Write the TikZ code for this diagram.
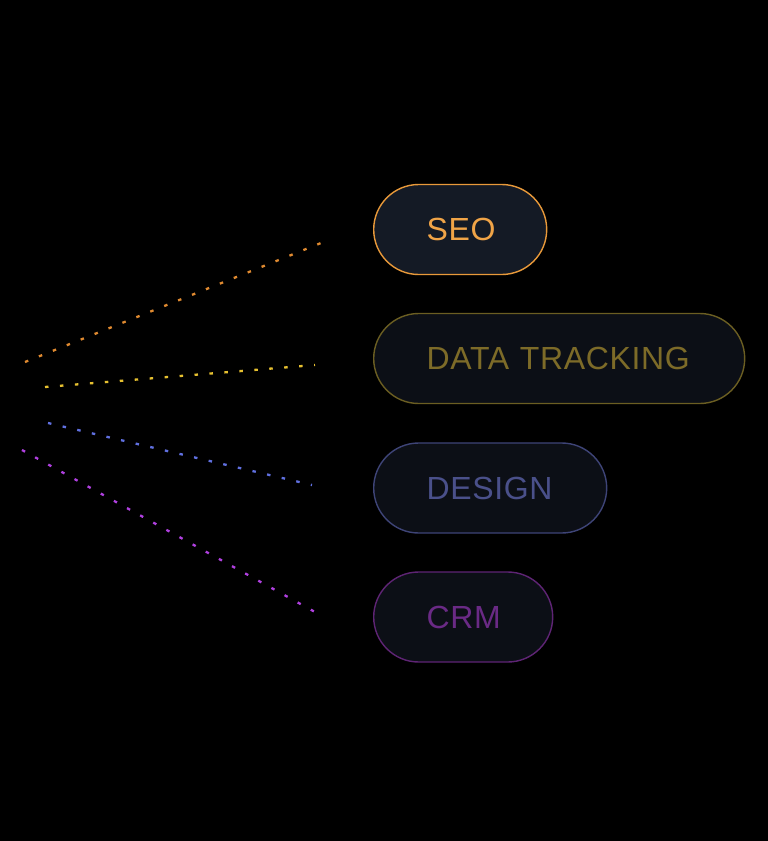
\documentclass[tikz,border=0pt]{standalone}
\usepackage{fontspec}
\setmainfont{Liberation Sans}
\definecolor{bg}{HTML}{000000}
\definecolor{seoB}{HTML}{E8993A}
\definecolor{seoT}{HTML}{F0A447}
\definecolor{seoF}{HTML}{141A25}
\definecolor{pillF}{HTML}{0C0F16}
\definecolor{dtB}{HTML}{6B5E22}
\definecolor{dtT}{HTML}{7D6B28}
\definecolor{deB}{HTML}{3E4477}
\definecolor{deT}{HTML}{4A508A}
\definecolor{crB}{HTML}{5E2474}
\definecolor{crT}{HTML}{6A2A85}
\definecolor{lnO}{HTML}{E08A30}
\definecolor{lnY}{HTML}{E6C030}
\definecolor{lnB}{HTML}{6070E0}
\definecolor{lnP}{HTML}{B040E0}
\tikzset{
  pill/.style={draw, line width=1.4pt, rounded corners=45pt, minimum height=90pt,
    anchor=west, inner xsep=53pt, inner ysep=0pt, align=left,
    font=\fontsize{32}{36}\selectfont\addfontfeature{LetterSpace=2}},
  dotline/.style={line width=2.3pt, dash pattern=on 3.5pt off 11.5pt}
}
\begin{document}
\begin{tikzpicture}[x=1pt,y=-1pt]
\fill[bg] (0,0) rectangle (768,841);
\useasboundingbox (0,0) rectangle (768,841);
\node[pill, draw=seoB, fill=seoF, text=seoT, text width=67pt] (seo) at (373,229.5) {SEO};
\node[pill, draw=dtB, fill=pillF, text=dtT, text width=265pt] (dt) at (373,358.5) {DATA TRACKING};
\node[pill, draw=deB, fill=pillF, text=deT, text width=127pt] (de) at (373,488) {DESIGN};
\node[pill, draw=crB, fill=pillF, text=crT, text width=73pt] (cr) at (373,617) {CRM};
\coordinate (o1) at (25,362); \coordinate (o2) at (321,243);
\coordinate (y1) at (45,387); \coordinate (y2) at (315,365);
\coordinate (b1) at (48,423); \coordinate (b2) at (312,485);
\coordinate (p1) at (22,450); \coordinate (p2) at (315,612);
\draw[dotline, lnO] (o1) -- (o2);
\draw[dotline, lnY] (y1) -- (y2);
\draw[dotline, lnB] (b1) -- (b2);
\draw[dotline, lnP] (p1) -- (p2);
\end{tikzpicture}
\end{document}
